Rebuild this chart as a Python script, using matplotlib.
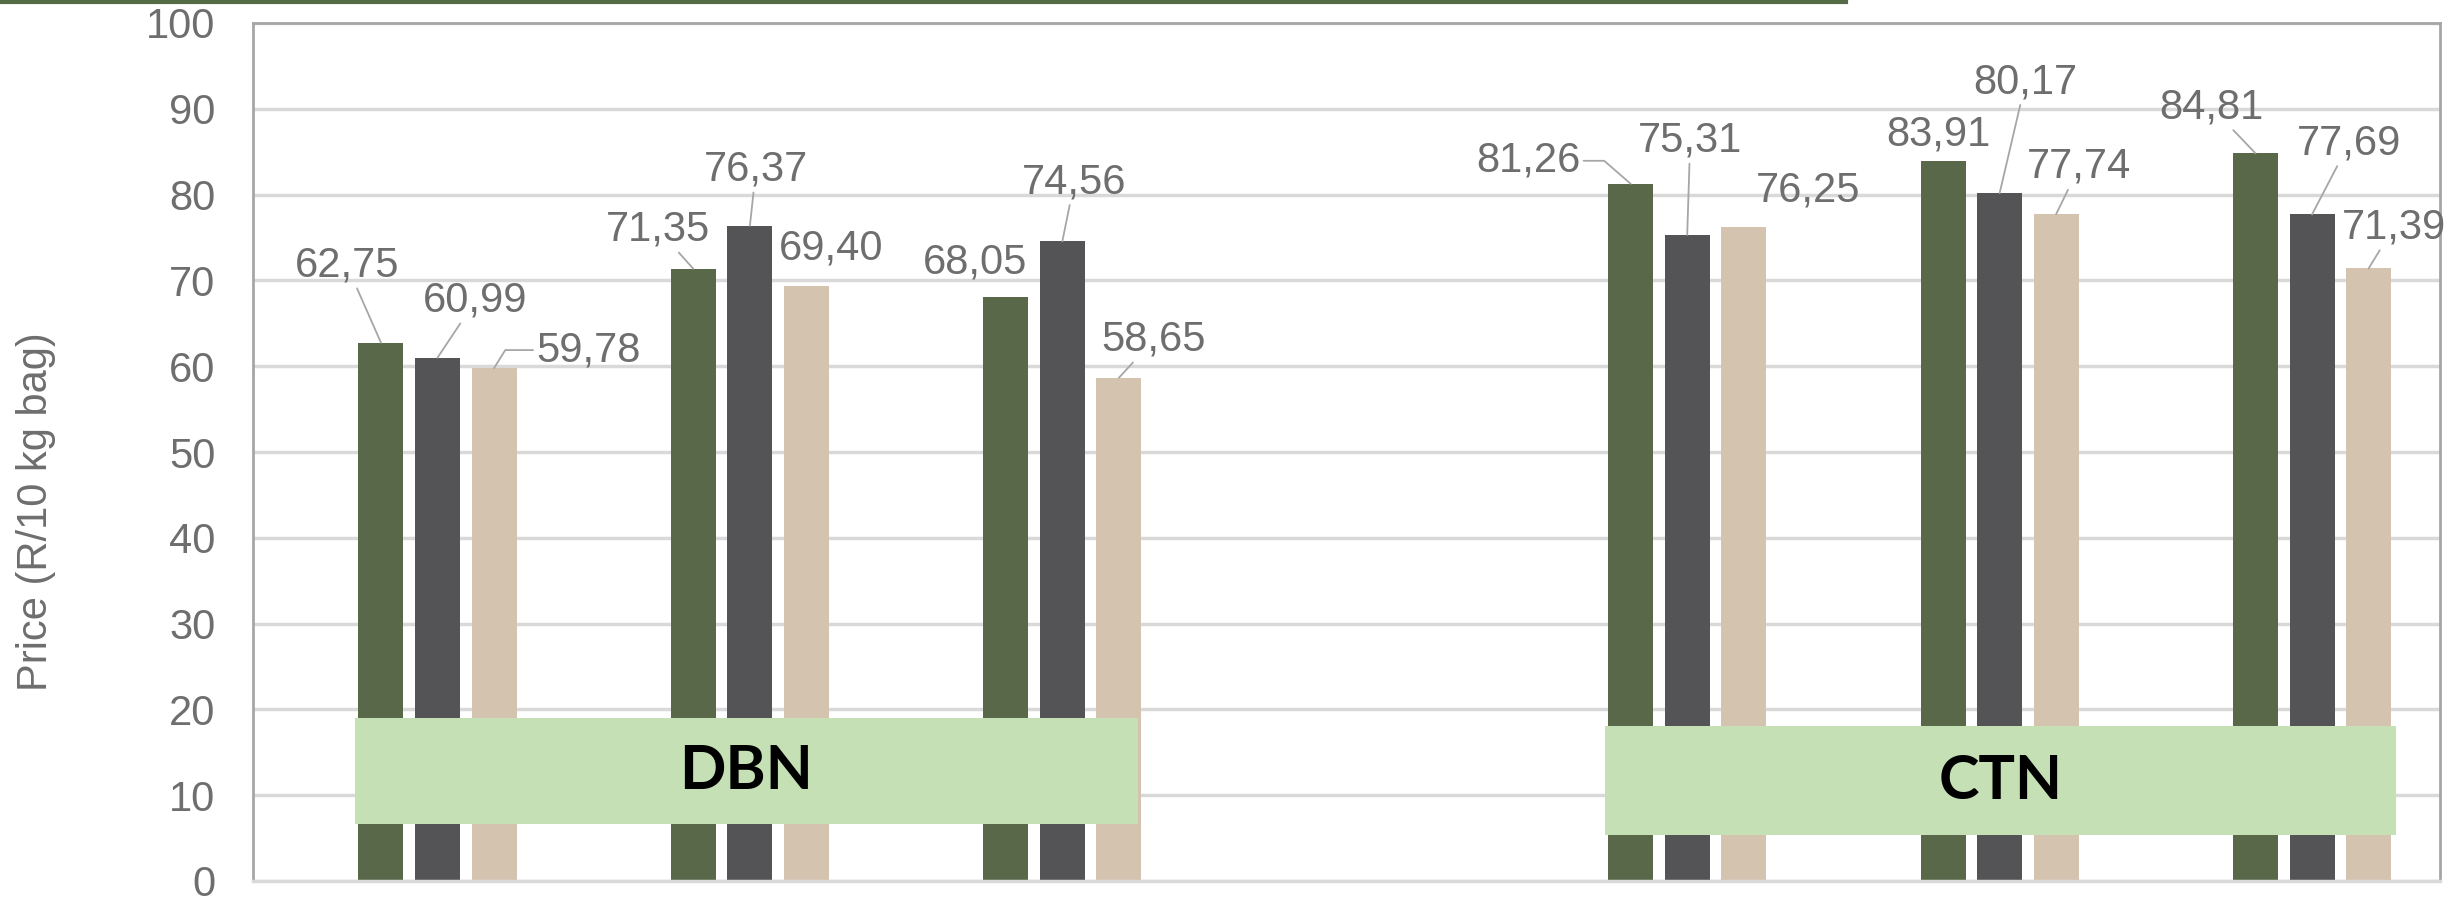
import numpy as np
import matplotlib.pyplot as plt
from matplotlib.patches import Rectangle
from matplotlib.lines import Line2D

plt.rcParams['font.family'] = ['Liberation Sans', 'DejaVu Sans']

# category slots (4th is an empty gap between the two markets)
groups = ["DBN", "DBN", "DBN", "", "CTN", "CTN", "CTN"]
green_vals = [62.75, 71.35, 68.05, np.nan, 81.26, 83.91, 84.81]
grey_vals = [60.99, 76.37, 74.56, np.nan, 75.31, 80.17, 77.69]
tan_vals = [59.78, 69.40, 58.65, np.nan, 76.25, 77.74, 71.39]
y_ticks = [0, 10, 20, 30, 40, 50, 60, 70, 80, 90, 100]

# label offsets in pixels from bar top (dx, dy, leader style)
# leader: None = no line, 'line' = straight, ('elbow', side, angle) = bent line
green_lab = [(-34, 77, 'line'), (-35, 39, 'line'), (-31, 35, None), None,
             (-102, 23, ('elbow', 1, 139)), (-5, 27, None), (-44, 46, 'line')]
grey_lab = [(38, 57, 'line'), (6, 56, 'line'), (12, 59, 'line'), None,
            (3, 94, 'line'), (26, 111, 'line'), (37, 71, 'line')]
tan_lab = [(94, 18, ('elbow', 0, 58)), (25, 37, None), (35, 38, 'line'), None,
           (64, 36, None), (23, 47, 'line'), (25, 41, 'line')]

txt_col = '#6E6E6E'
lead_col = '#A6A6A6'

fig = plt.figure(figsize=(24.58, 8.98), dpi=100)
ax = fig.add_axes([253 / 2458, 17 / 898, 2187 / 2458, 858 / 898])

x = np.arange(len(groups))
pitch, width = 0.181, 0.144
series = [(green_vals, '#586848', green_lab, 1),
          (grey_vals, '#545456', grey_lab, 2),
          (tan_vals, '#D4C3AF', tan_lab, 3)]

for vals, col, labs, slot in series:
    xs = x + (slot - 1.5) * pitch
    ax.bar(xs, vals, width=width, color=col, zorder=2)
    for xi, v, lab in zip(xs, vals, labs):
        if lab is None or np.isnan(v):
            continue
        dx, dy, leader = lab
        arrow = None
        if leader == 'line':
            arrow = dict(arrowstyle='-', color=lead_col, lw=1.3,
                         shrinkA=0, shrinkB=0)
        elif leader is not None:
            _, side, ang = leader
            arrow = dict(arrowstyle='-', color=lead_col, lw=1.3,
                         shrinkA=0, shrinkB=0, relpos=(side, 0.5),
                         connectionstyle=f'angle,angleA=0,angleB={ang},rad=0')
        ax.annotate(f"{v:.2f}".replace('.', ','), xy=(xi, v), xytext=(dx, dy),
                    textcoords='offset pixels', ha='center', va='center',
                    fontsize=30, color=txt_col, arrowprops=arrow, zorder=4)

# market boxes
ax.add_patch(Rectangle((-0.174, 6.64), 2.506, 12.36, fc='#C5E0B4', ec='none', zorder=3))
ax.text(1.079, 12.8, 'DBN', ha='center', va='center', fontsize=44,
        fontweight='bold', family=['Lato', 'DejaVu Sans'], color='black', zorder=4)
ax.add_patch(Rectangle((3.826, 5.4), 2.534, 12.67, fc='#C5E0B4', ec='none', zorder=3))
ax.text(5.093, 11.7, 'CTN', ha='center', va='center', fontsize=44,
        fontweight='bold', family=['Lato', 'DejaVu Sans'], color='black', zorder=4)

ax.set_xlim(-0.5, 6.5)
ax.set_ylim(0, 100)
ax.set_yticks(y_ticks)
ax.set_xticks([])
ax.set_axisbelow(True)
ax.yaxis.grid(True, color='#D9D9D9', lw=2.5)
ax.tick_params(axis='y', length=0, pad=27, labelsize=30, labelcolor=txt_col)
for s in ['top', 'left', 'right']:
    ax.spines[s].set_color('#A6A6A6')
    ax.spines[s].set_linewidth(2)
ax.spines['bottom'].set_color('#D9D9D9')
ax.spines['bottom'].set_linewidth(2.5)

fig.text(36 / 2458, 1 - 512 / 898, 'Price (R/10 kg bag)', rotation=90,
         ha='center', va='center', fontsize=30, color=txt_col)

# dark green rule along the top edge
fig.add_artist(Line2D([0, 1846 / 2458], [1 - 1.5 / 898] * 2, color='#556B45', lw=3))

fig.savefig('out.png', dpi=100)
